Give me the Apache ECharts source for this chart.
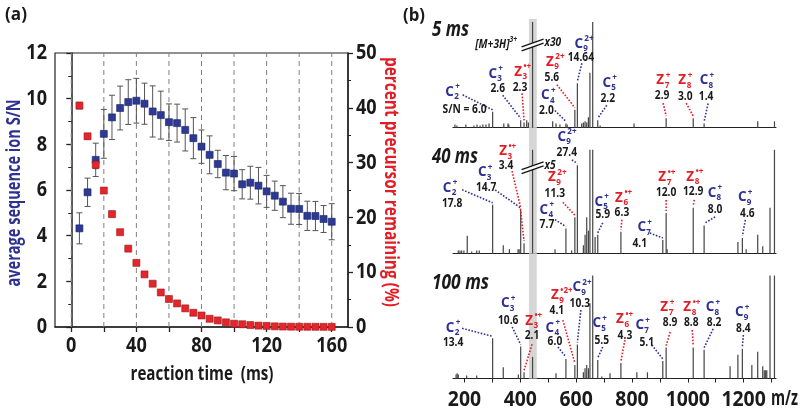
<!DOCTYPE html>
<html><head><meta charset="utf-8">
<script src="https://cdn.jsdelivr.net/npm/echarts@6/dist/echarts.min.js"></script>
<style>html,body{margin:0;padding:0;background:#fff}#c{width:800px;height:412px}</style>
</head><body><div id="c"></div>
<script>
// ---------- Panel (a) data ----------
const times = [5,10,15,20,25,30,35,40,45,50,55,60,65,70,75,80,85,90,95,100,105,110,115,120,125,130,135,140,145,150,155,160];
const snMean = [4.32,5.9,7.32,8.46,9.18,9.59,9.85,9.91,9.78,9.44,9.28,8.97,8.93,8.63,8.27,7.9,7.54,7.14,6.76,6.72,6.25,6.32,6.19,5.94,5.75,5.49,5.18,5.17,4.87,4.86,4.73,4.61];
const snErr = [0.68,0.62,0.73,1.07,0.97,0.96,0.98,0.98,0.9,1.12,1.05,0.8,0.83,0.92,0.9,0.73,0.83,0.6,0.75,0.75,0.64,0.72,0.8,0.7,0.64,0.7,0.68,0.68,0.64,0.64,0.59,0.79];
const pctMean = [40.4,34.8,29.6,24.9,20.6,17.3,14.3,11.7,9.6,7.9,6.3,5.1,4.3,3.4,2.6,2.1,1.5,1.2,0.85,0.6,0.5,0.35,0.25,0.2,0.12,0.08,0.06,0.05,0.04,0.04,0.03,0.03];
const pctErr = [0.6,0.5,0.7,0.5,0.5,0.4,0.4,0.3,0.3,0.3,0.2,0.2,0.2,0.2,0.2,0.2,0.2,0.1,0.1,0.1,0.1,0.1,0.1,0.1,0.1,0.1,0.1,0.1,0.1,0.1,0.1,0.1];
const gridTimes = [0,20,40,60,80,100,120,140,160];
const timeLabels = [0,40,80,120,160];
const snTicks = [0,2,4,6,8,10,12];
const pctTicks = [0,10,20,30,40,50];

// ---------- Panel (b) data ----------
const mz5 = [166,173,205,234,245,256,266,277,288,301,341,356,359,401.5,413.5,423,429,444,516,528,542,563.5,568,595.5,604.5,620,626,632,638,644,649.5,659.5,677.5,686,807.5,922.5,1019.5,1058.5,1250.5,1310.5];
const int5 = [3,2,3,2,3,2,3,3,4,15,4,4,3,7,5,7,5,100,6,4,3,4,3,17,42,4,5,6,5,10,52,100,7,2,4,9,9,4,6,6];
const mz40 = [178,184,190,198,210,226,244,253,301,339,361,392,396,401.5,413.5,444,524.5,563.5,584,595.5,604.5,626,632,638,644,649.5,659.5,668,677.5,760.5,910.5,922.5,926,1019.5,1058.5,1179.5,1195.5,1209,1250.5,1268.5,1294.5,1310.5];
const int40 = [3,3,3,3,17,2,3,3,47,8,4,4,4,42,10,100,4,24,3,35,85,8,18,35,22,100,100,16,18,21,13,39,4,44,27,11,15,4,18,7,44,100];
const mz100 = [170,174,178,208,244,301,339,393,401.5,413.5,444,528,563.5,595.5,604.5,626,632,638,644,649.5,659.5,677.5,692,721.5,760.5,817.5,855.5,910.5,922.5,1019.5,1058.5,1151.5,1179.5,1195.5,1229.5,1250.5,1268.5,1274,1279,1283,1294.5,1310.5];
const int100 = [4,5,4,3,3,39,11,4,31,6,21,5,19,13,33,6,10,13,10,73,100,18,2,5,15,6,6,17,30,30,28,12,23,29,13,26,12,8,8,8,100,100];
const mzTicks = [200,300,400,500,600,700,800,900,1000,1100,1200,1300];
const mzLabels = [200,400,600,800,1000,1200];
const precursorBand = [431,459];
const precursorMz = 444;
const spectrumTitles = ['5 ms','40 ms','100 ms'];

const ann5 = [
 {ion:'C',n:'2',z:'+',sn:'S/N = 6.0',mz:301},
 {ion:'C',n:'3',z:'+',sn:'2.6',mz:401.5},
 {ion:'Z',n:'3',z:'•+',sn:'2.3',mz:413.5},
 {ion:'C',n:'4',z:'+',sn:'2.0',mz:563.5},
 {ion:'Z',n:'9',z:'2+',sn:'5.6',mz:595.5},
 {ion:'C',n:'9',z:'2+',sn:'14.64',mz:604.5},
 {ion:'C',n:'5',z:'+',sn:'2.2',mz:677.5},
 {ion:'Z',n:'7',z:'+',sn:'2.9',mz:922.5},
 {ion:'Z',n:'8',z:'+',sn:'3.0',mz:1019.5},
 {ion:'C',n:'8',z:'+',sn:'1.4',mz:1058.5}];
const ann40 = [
 {ion:'C',n:'2',z:'+',sn:'17.8',mz:301},
 {ion:'C',n:'3',z:'+',sn:'14.7',mz:401.5},
 {ion:'Z',n:'3',z:'•+',sn:'3.4',mz:413.5},
 {ion:'C',n:'9',z:'2+',sn:'27.4',mz:604.5},
 {ion:'Z',n:'9',z:'2+',sn:'11.3',mz:595.5},
 {ion:'C',n:'4',z:'+',sn:'7.7',mz:563.5},
 {ion:'C',n:'5',z:'+',sn:'5.9',mz:677.5},
 {ion:'Z',n:'6',z:'•+',sn:'6.3',mz:760.5},
 {ion:'C',n:'7',z:'+',sn:'4.1',mz:910.5},
 {ion:'Z',n:'7',z:'•+',sn:'12.0',mz:922.5},
 {ion:'Z',n:'8',z:'•+',sn:'12.9',mz:1019.5},
 {ion:'C',n:'8',z:'+',sn:'8.0',mz:1058.5},
 {ion:'C',n:'9',z:'+',sn:'4.6',mz:1195.5}];
const ann100 = [
 {ion:'C',n:'2',z:'+',sn:'13.4',mz:301},
 {ion:'C',n:'3',z:'+',sn:'10.6',mz:401.5},
 {ion:'Z',n:'3',z:'•+',sn:'2.1',mz:413.5},
 {ion:'C',n:'4',z:'+',sn:'6.0',mz:563.5},
 {ion:'Z',n:'9',z:'•2+',sn:'4.1',mz:595.5},
 {ion:'C',n:'9',z:'2+',sn:'10.3',mz:604.5},
 {ion:'C',n:'5',z:'+',sn:'5.5',mz:677.5},
 {ion:'Z',n:'6',z:'•+',sn:'4.3',mz:760.5},
 {ion:'C',n:'7',z:'+',sn:'5.1',mz:910.5},
 {ion:'Z',n:'7',z:'+',sn:'8.9',mz:922.5},
 {ion:'Z',n:'8',z:'•+',sn:'8.8',mz:1019.5},
 {ion:'C',n:'8',z:'+',sn:'8.2',mz:1058.5},
 {ion:'C',n:'9',z:'+',sn:'8.4',mz:1195.5}];

// ---------- layout (pixel offsets from peak top: label, number, leader start, optional bend) ----------
const lay5 = [[-40,-20,-28,-2,-30,-17],[-25,-47,-23,-32,-18,-25],[-3,-51,-4,-35,-2,-29],[-17.5,-28.5,-19.5,-13.5,-11,-13],
 [-22,-48,-23,-32,-18,-25],[4.5,-40,3.5,-26,4.5,-20],[12,-38,10,-22,9,-15],[-3,-38,-4,-23,-3,-15],[-8,-38,-8,-22,-7,-15],[3,-43.5,2,-27.5,4,-20]];
const lay40 = [[-42.5,-17,-40.5,-1,-30.5,-15],[-35.5,-38,-34.5,-23,-25.5,-20],[-18,-92,-18,-78,-12,-72,-4,-38],[-12.5,-28.5,-10.5,-13,-5.5,-5.5],
 [-20,-40,-20,-24,-12,-15],[-19,-19,-19,-4,-11,-9],[4,-33,5,-20,5,-12],[1,-34,1,-19,1,-12],[-18,-13,-23,3,-13,-7],
 [-1,-36,0,-21,0,-13],[0,-31,0,-16,1,-8],[11,-32.6,11,-15.6,11,-8.6],[3,-41,5,-25,3,-18]];
const lay100 = [[-39.5,-11,-39.5,4,-30.5,-10],[-12.5,-43.6,-12.5,-26.6,-8.5,-19.6],[8,-52,8,-37,8,-28],[-13,-31,-11,-17,-8,-12],
 [-17,-70,-18,-55,-12,-45],[2.5,-57.5,2.5,-41.5,3.5,-34.5],[2,-37,4,-20,5,-13],[2,-44,4,-28,4,-23],[-20,-36,-16,-19,-11,-16],
 [1,-40.6,4,-25.6,4,-15.6],[-3,-40.6,-2,-25.6,-1,-17.6],[9,-42.7,10,-27.7,9,-20.7],[0,-36.6,1,-20.6,1,-13.6]];

const FONT = "'Open Sans', 'Noto Sans', sans-serif";
const BLUE = '#2e3192', RED = '#e21d25', INK = '#1a1a1a';
const TICK_SX = 0.82, ANN_SX = 0.82;

const measureCtx = document.createElement('canvas').getContext('2d');
function fitScale(text, font, target){ measureCtx.font = font; return target / measureCtx.measureText(text).width; }

const chart = echarts.init(document.getElementById('c'), null, {renderer:'canvas'});

function txt(x,y,text,font,fill,align,valign,sx){
  return {type:'text', x:x, y:y, scaleX: sx||1, style:{text:text, font:font, fill:fill, align:align||'center', verticalAlign:valign||'middle', textAlign:align||'center', textVerticalAlign:valign||'middle'}};
}

function errSeries(m, e, yIdx){
  return {
    type:'custom', xAxisIndex:0, yAxisIndex:yIdx, z:3, silent:true, encode:{x:0,y:1},
    data: times.map((t,i)=>[t, m[i], e[i]]),
    renderItem(params, api){
      const x = api.value(0), v = api.value(1), er = api.value(2);
      const a = api.coord([x, v+er]), b = api.coord([x, v-er]);
      const st = {stroke:'#555', lineWidth:1};
      return {type:'group', children:[
        {type:'line', shape:{x1:a[0],y1:a[1],x2:b[0],y2:b[1]}, style:st},
        {type:'line', shape:{x1:a[0]-3,y1:a[1],x2:a[0]+3,y2:a[1]}, style:st},
        {type:'line', shape:{x1:b[0]-3,y1:b[1],x2:b[0]+3,y2:b[1]}, style:st}]};
    }};
}

// dashed vertical reference lines at gridTimes
const vLines = {
  type:'custom', xAxisIndex:0, yAxisIndex:0, z:1, silent:true, encode:{x:0},
  data: gridTimes.map(t=>[t]),
  renderItem(params, api){
    const a = api.coord([api.value(0), 0]), b = api.coord([api.value(0), 12]);
    return {type:'line', shape:{x1:a[0],y1:a[1],x2:b[0],y2:b[1]}, style:{stroke:'#808080', lineWidth:1, lineDash:[5,4]}};
  }};

// tick-label series (texts placed through the axis scales)
function tickLabelSeries(xi, yi, data, toPoint, dx, dy, align, fontSize, sx){
  return {
    type:'custom', xAxisIndex:xi, yAxisIndex:yi, z:8, silent:true, clip:false, encode:{x:0,y:1},
    data: data.map(v=>toPoint(v)),
    renderItem(params, api){
      const p = api.coord([api.value(0), api.value(1)]);
      return txt(p[0]+dx, p[1]+dy, String(api.value(2)), 'bold '+fontSize+'px '+FONT, INK, align, 'middle', sx||TICK_SX);
    }};
}

function annSeries(gi, ann, lay, mzArr, intArr){
  return {
    type:'custom', xAxisIndex:gi, yAxisIndex:gi+1, z:6, silent:true, clip:false, encode:{x:0,y:1},
    data: ann.map((a,i)=>[a.mz, intArr[mzArr.indexOf(a.mz)], i]),
    renderItem(params, api){
      const i = api.value(2), a = ann[i], L = lay[i];
      const p = api.coord([api.value(0), api.value(1)]);
      const col = a.ion === 'C' ? BLUE : RED;
      const pts = [[p[0]+L[4], p[1]+L[5]]];
      if (L.length > 6) pts.push([p[0]+L[6], p[1]+L[7]]);
      pts.push([p[0], p[1]-2]);
      const lx = p[0]+L[0], ly = p[1]+L[1];
      return {type:'group', children:[
        {type:'polyline', shape:{points:pts}, style:{stroke:col, lineWidth:1.6, lineDash:[1.6,1.6], fill:null}},
        txt(lx-3, ly, a.ion, 'bold 15px '+FONT, col, 'center', 'middle', 0.9),
        txt(lx+1.5, ly+5, a.n, 'bold 9px '+FONT, col, 'left', 'middle', 0.9),
        txt(lx+2.5, ly-5, a.z, 'bold 9px '+FONT, col, 'left', 'middle', 0.9),
        txt(p[0]+L[2], p[1]+L[3], a.sn, 'bold 12.5px '+FONT, INK, 'center', 'middle', ANN_SX)
      ]};
    }};
}

function breakSeries(gi, mzArr, intArr, dy, mult, withName){
  return {
    type:'custom', xAxisIndex:gi, yAxisIndex:gi+1, z:7, silent:true, clip:false, encode:{x:0,y:1},
    data: [[precursorMz, intArr[mzArr.indexOf(precursorMz)]]],
    renderItem(params, api){
      const p = api.coord([api.value(0), api.value(1)]);
      const cx = p[0], cy = p[1]+dy;
      const s = -0.35, g = 4;
      const y1 = x => cy + s*x - g/2, y2 = x => cy + s*x + g/2;
      const ch = [
        {type:'polygon', shape:{points:[[cx-4,y1(-4)],[cx+4,y1(4)],[cx+4,y2(4)],[cx-4,y2(-4)]]}, style:{fill:'#fff'}},
        {type:'line', shape:{x1:cx-11,y1:y1(-11),x2:cx+11,y2:y1(11)}, style:{stroke:'#111', lineWidth:1.2}},
        {type:'line', shape:{x1:cx-11,y1:y2(-11),x2:cx+11,y2:y2(11)}, style:{stroke:'#111', lineWidth:1.2}},
        txt(cx+12, cy-2, mult, 'italic bold 12px '+FONT, INK, 'left', 'middle', 0.85)
      ];
      if (withName) {
        ch.push(txt(cx-23, cy, '[M+3H]', 'italic bold 12px '+FONT, INK, 'right', 'middle', 0.85));
        ch.push(txt(cx-23, cy-5, '3+', 'italic bold 8px '+FONT, INK, 'left', 'middle', 0.85));
      }
      return {type:'group', children:ch};
    }};
}

function specBars(gi, mzArr, intArr){
  return {
    type:'bar', xAxisIndex:gi, yAxisIndex:gi+1, barWidth:1.2, z:3, silent:true,
    itemStyle:{color:'#444'},
    data: mzArr.map((m,i)=>[m, intArr[i]]),
    markArea:{silent:true, itemStyle:{color:'#d6d6d6'}, data:[[{xAxis:precursorBand[0]},{xAxis:precursorBand[1]}]]}
  };
}

const specGrids = [
  {left:453, top:19, width:323, height:108.7},
  {left:453, top:127.7, width:323, height:125.8},
  {left:453, top:253.5, width:323, height:125}
];
const specMax = [102.8, 121.3, 121.4];

function specX(gi, last){
  return {type:'value', gridIndex:gi, min:159, max:1316,
    axisLine:{show:true, onZero:false, lineStyle:{color:'#222', width:1.2}},
    axisTick:{show:!!last, customValues:mzTicks, length:4, lineStyle:{color:'#222', width:1}},
    axisLabel:{show:false}, splitLine:{show:false}};
}

// free-standing texts (panel letters, spectrum titles, axis names)
function label(x, y, text, font, fill, target, rot, align){
  return {type:'text', x:x, y:y, rotation:rot||0, scaleX:fitScale(text, font, target), silent:true, z:10,
    style:{text:text, font:font, fill:fill, align:align||'center', verticalAlign:'middle'}};
}
const NAME_FONT = 'bold 19px '+FONT;
const TITLE_FONT = 'italic bold 21px '+FONT;
const graphics = [
  label(16, 15, '(a)', 'bold 17px '+FONT, INK, 22),
  label(414, 16, '(b)', 'bold 17px '+FONT, INK, 22),
  label(432, 30, spectrumTitles[0], TITLE_FONT, INK, 37, 0, 'left'),
  label(432, 157, spectrumTitles[1], TITLE_FONT, INK, 46, 0, 'left'),
  label(432, 283, spectrumTitles[2], TITLE_FONT, INK, 57, 0, 'left'),
  label(15, 193, 'average sequence ion S/N', NAME_FONT, BLUE, 187, Math.PI/2),
  label(390, 182, 'percent precursor remaining (%)', NAME_FONT, RED, 250, -Math.PI/2),
  label(202, 374, 'reaction time  (ms)', 'bold 20px '+FONT, INK, 143),
  label(771, 399, 'm/z', 'bold 22px '+FONT, INK, 27, 0, 'left')
];

const option = {
  animation:false,
  backgroundColor:'#fff',
  graphic: graphics,
  grid:[
    {left:55, top:53, width:293, height:274, show:true, borderColor:'#222', borderWidth:1.2, backgroundColor:'transparent'},
    specGrids[0], specGrids[1], specGrids[2]
  ],
  xAxis:[
    {type:'value', gridIndex:0, min:-10, max:170,
     axisLine:{show:true, onZero:false, lineStyle:{color:'#222', width:1.5}},
     axisTick:{show:true, customValues:gridTimes, length:5, lineStyle:{color:'#222', width:1.3}},
     axisLabel:{show:false}, splitLine:{show:false}},
    specX(1,false), specX(2,false), specX(3,true)
  ],
  yAxis:[
    {type:'value', gridIndex:0, min:0, max:12, interval:2, position:'left',
     axisLine:{show:true, lineStyle:{color:'#222', width:1.5}},
     axisTick:{show:true, length:5, lineStyle:{color:'#222', width:1.3}},
     minorTick:{show:true, splitNumber:2, length:3, lineStyle:{color:'#222', width:1}},
     axisLabel:{show:false}, splitLine:{show:false}},
    {type:'value', gridIndex:0, min:0, max:50, interval:10, position:'right',
     axisLine:{show:true, lineStyle:{color:'#222', width:1.5}},
     axisTick:{show:true, length:5, lineStyle:{color:'#222', width:1.3}},
     minorTick:{show:true, splitNumber:2, length:3, lineStyle:{color:'#222', width:1}},
     axisLabel:{show:false}, splitLine:{show:false}},
    {type:'value', gridIndex:1, min:0, max:specMax[0], show:false},
    {type:'value', gridIndex:2, min:0, max:specMax[1], show:false},
    {type:'value', gridIndex:3, min:0, max:specMax[2], show:false}
  ],
  series:[
    vLines,
    errSeries(snMean, snErr, 0),
    {type:'scatter', xAxisIndex:0, yAxisIndex:0, symbol:'rect', symbolSize:7, z:4, silent:true,
     itemStyle:{color:'#2c3a93', borderColor:'#1b2266', borderWidth:0.6, opacity:1},
     data: times.map((t,i)=>[t, snMean[i]])},
    errSeries(pctMean, pctErr, 1),
    {type:'scatter', xAxisIndex:0, yAxisIndex:1, symbol:'rect', symbolSize:7, z:4, silent:true,
     itemStyle:{color:'#e4262c', borderColor:'#9b1a1a', borderWidth:0.6, opacity:1},
     data: times.map((t,i)=>[t, pctMean[i]])},
    tickLabelSeries(0, 0, timeLabels, v=>[v, 0, v], 0, 19, 'center', 22),
    tickLabelSeries(0, 0, snTicks, v=>[-10, v, v], -8, 0, 'right', 22),
    tickLabelSeries(0, 1, pctTicks, v=>[170, v, v], 8, 0, 'left', 22),
    tickLabelSeries(3, 4, mzLabels, v=>[v, 0, v], 0, 21, 'center', 22, 0.88),
    specBars(1, mz5, int5), specBars(2, mz40, int40), specBars(3, mz100, int100),
    annSeries(1, ann5, lay5, mz5, int5), annSeries(2, ann40, lay40, mz40, int40), annSeries(3, ann100, lay100, mz100, int100),
    breakSeries(1, mz5, int5, 23, 'x30', true),
    breakSeries(2, mz40, int40, 18, 'x5', false)
  ]
};
chart.setOption(option);
</script></body></html>
